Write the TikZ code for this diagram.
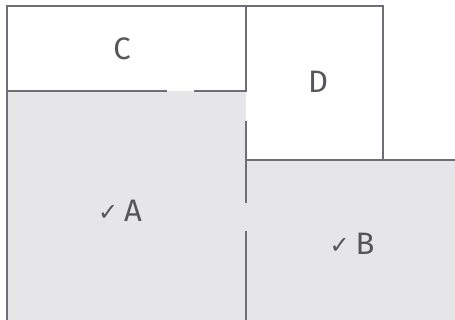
\documentclass[tikz,border=0pt]{standalone}
\usepackage{fontspec}
\setmainfont{Fira Sans}
\newfontfamily\symfont{DejaVu Sans}
\definecolor{edge}{HTML}{6E6E76}
\definecolor{pane}{HTML}{E6E6E8}
\definecolor{ink}{HTML}{55555C}
\newcommand{\chkmark}{\raisebox{1.5pt}{\symfont\fontsize{24}{24}\selectfont ✓}\hspace{6pt}}
\begin{document}
\begin{tikzpicture}[x=1pt,y=-1pt,
  border/.style={draw=edge,line width=2pt,line cap=rect},
  lbl/.style={font=\fontsize{31}{31}\selectfont,text=ink,inner sep=0pt,anchor=base}]
\useasboundingbox (0,0) rectangle (455,320);
% panes
\fill[pane] (7,91) rectangle (246,320);
\fill[pane] (246,160) rectangle (455,320);
% borders
\draw[border] (7,320) -- (7,6) -- (383,6) -- (383,160);
\draw[border] (246,6) -- (246,91);
\draw[border] (7,91) -- (166,91);
\draw[border] (195,91) -- (246,91);
\draw[border] (246,122) -- (246,202);
\draw[border] (246,232) -- (246,320);
\draw[border] (246,160) -- (455,160);
% labels
\node[lbl] (c) at (122,60) {C};
\node[lbl] (d) at (318,93) {D};
\node[lbl] (a) at (120,222) {\chkmark A};
\node[lbl] (b) at (352,255) {\chkmark B};
\end{tikzpicture}
\end{document}
